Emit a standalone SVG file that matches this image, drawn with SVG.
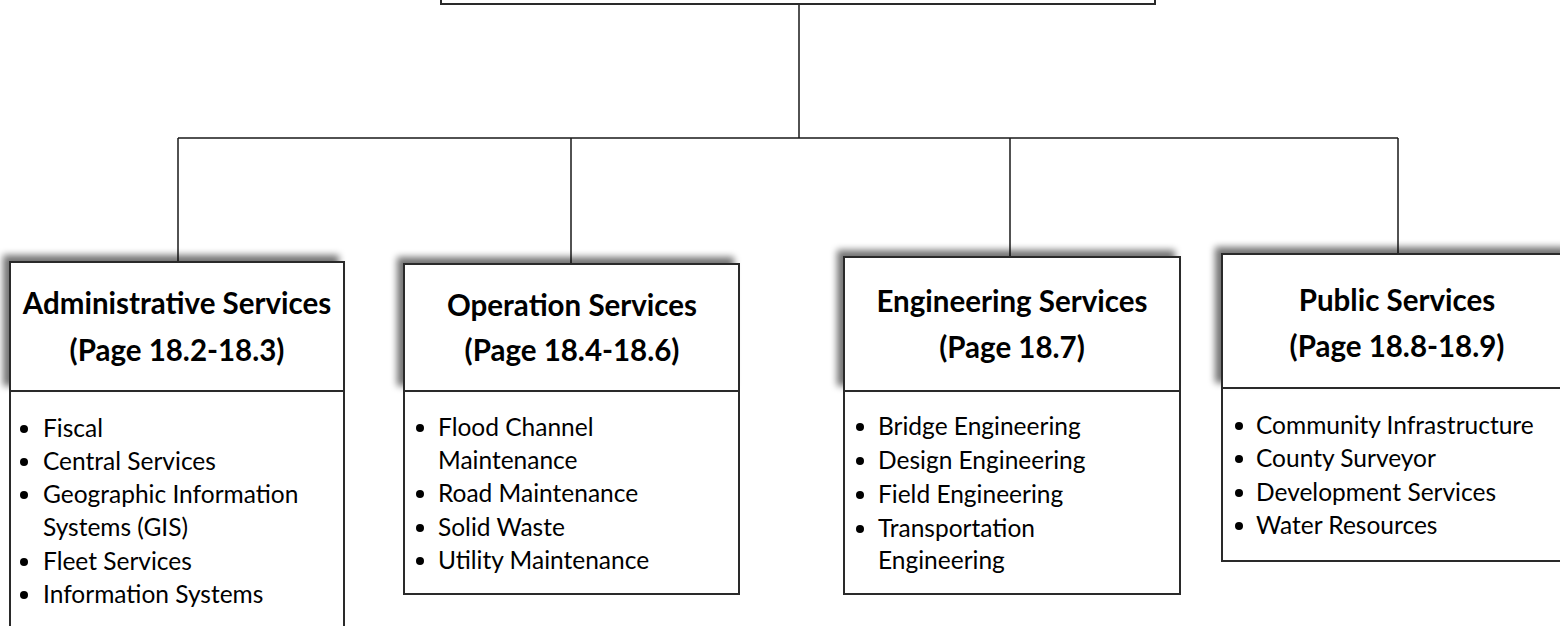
<svg xmlns="http://www.w3.org/2000/svg" width="1560" height="626" viewBox="0 0 1560 626">
<defs>
<filter id="sh" x="-10%" y="-20%" width="120%" height="140%">
<feGaussianBlur in="SourceAlpha" stdDeviation="3.5" result="b"/>
<feOffset in="b" dx="-6" dy="-6" result="o"/>
<feComponentTransfer in="o" result="s"><feFuncA type="linear" slope="0.55"/></feComponentTransfer>
<feMerge><feMergeNode in="s"/><feMergeNode in="SourceGraphic"/></feMerge>
</filter>
<style>
.box{fill:#fff;stroke:#2a2a2a;stroke-width:2}
.hd{font-family:Lato,"Liberation Sans",sans-serif;font-weight:bold;font-size:29.5px;fill:#000;text-anchor:middle}
.it{font-family:Lato,"Liberation Sans",sans-serif;font-size:24.5px;fill:#000}
.bl{fill:#000}
.ln{stroke:#1a1a1a;stroke-width:1.5;fill:none}
</style>
</defs>
<g id="connectors">
<path class="ln" d="M799,4 V138 M178,138 H1398 M178,138 V262 M571,138 V264 M1010,138 V257 M1398,138 V254"/>
</g>
<g id="top">
<rect class="box" x="441" y="-60" width="714" height="64"/>
</g>
<g id="admin">
<rect class="box" x="10" y="391" width="334" height="250"/>
<rect class="box" x="10" y="262" width="334" height="129" filter="url(#sh)"/>
<text class="hd" x="177" y="314">Administrative Services</text>
<text class="hd" x="177" y="361">(Page 18.2-18.3)</text>
<circle class="bl" cx="24" cy="429" r="4"/><text class="it" x="43" y="437">Fiscal</text>
<circle class="bl" cx="24" cy="462" r="4"/><text class="it" x="43" y="470">Central Services</text>
<circle class="bl" cx="24" cy="495" r="4"/><text class="it" x="43" y="503">Geographic Information</text>
<text class="it" x="43" y="536">Systems (GIS)</text>
<circle class="bl" cx="24" cy="562" r="4"/><text class="it" x="43" y="570">Fleet Services</text>
<circle class="bl" cx="24" cy="595" r="4"/><text class="it" x="43" y="603">Information Systems</text>
</g>
<g id="operation">
<rect class="box" x="404" y="391" width="335" height="203"/>
<rect class="box" x="404" y="264" width="335" height="127" filter="url(#sh)"/>
<text class="hd" x="572" y="316">Operation Services</text>
<text class="hd" x="572" y="361">(Page 18.4-18.6)</text>
<circle class="bl" cx="420" cy="428" r="4"/><text class="it" x="438" y="436">Flood Channel</text>
<text class="it" x="438" y="469">Maintenance</text>
<circle class="bl" cx="420" cy="494" r="4"/><text class="it" x="438" y="502">Road Maintenance</text>
<circle class="bl" cx="420" cy="528" r="4"/><text class="it" x="438" y="536">Solid Waste</text>
<circle class="bl" cx="420" cy="561" r="4"/><text class="it" x="438" y="569">Utility Maintenance</text>
</g>
<g id="engineering">
<rect class="box" x="844" y="391" width="336" height="203"/>
<rect class="box" x="844" y="257" width="336" height="134" filter="url(#sh)"/>
<text class="hd" x="1012" y="312">Engineering Services</text>
<text class="hd" x="1012" y="358">(Page 18.7)</text>
<circle class="bl" cx="860" cy="427" r="4"/><text class="it" x="878" y="435">Bridge Engineering</text>
<circle class="bl" cx="860" cy="461" r="4"/><text class="it" x="878" y="469">Design Engineering</text>
<circle class="bl" cx="860" cy="495" r="4"/><text class="it" x="878" y="503">Field Engineering</text>
<circle class="bl" cx="860" cy="529" r="4"/><text class="it" x="878" y="537">Transportation</text>
<text class="it" x="878" y="569">Engineering</text>
</g>
<g id="public">
<rect class="box" x="1222" y="388" width="350" height="173"/>
<rect class="box" x="1222" y="254" width="350" height="134" filter="url(#sh)"/>
<text class="hd" x="1397" y="311">Public Services</text>
<text class="hd" x="1397" y="357">(Page 18.8-18.9)</text>
<circle class="bl" cx="1239" cy="426" r="4"/><text class="it" x="1256" y="434">Community Infrastructure</text>
<circle class="bl" cx="1239" cy="459" r="4"/><text class="it" x="1256" y="467">County Surveyor</text>
<circle class="bl" cx="1239" cy="493" r="4"/><text class="it" x="1256" y="501">Development Services</text>
<circle class="bl" cx="1239" cy="526" r="4"/><text class="it" x="1256" y="534">Water Resources</text>
</g>
</svg>
